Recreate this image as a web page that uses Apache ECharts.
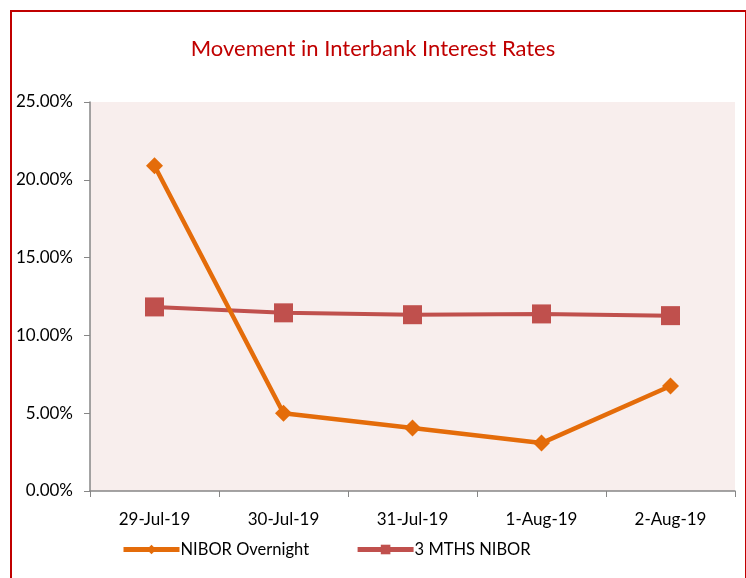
<!DOCTYPE html>
<html>
<head>
<meta charset="utf-8">
<script src="https://cdn.jsdelivr.net/npm/echarts@6/dist/echarts.min.js"></script>
<style>
  html, body { margin: 0; padding: 0; background: #fff; }
  #frame {
    position: absolute;
    left: 10px;
    top: 10px;
    width: 733px;
    height: 620px;
    border: 2px solid #C00000;
  }
  #main {
    position: absolute;
    left: 0;
    top: 0;
    width: 746px;
    height: 578px;
  }
</style>
</head>
<body>
<div id="frame"></div>
<div id="main"></div>
<script>
const dates = ["29-Jul-19", "30-Jul-19", "31-Jul-19", "1-Aug-19", "2-Aug-19"];
const niborOvernight = [20.9, 5.0, 4.05, 3.08, 6.75];
const nibor3m = [11.83, 11.45, 11.33, 11.38, 11.27];
const yTicks = [0, 5, 10, 15, 20, 25];

const font = "Lato, 'Open Sans', sans-serif";
const chart = echarts.init(document.getElementById("main"));

const option = {
  textStyle: { fontFamily: font },
  title: {
    text: "Movement in Interbank Interest Rates",
    left: "center",
    top: 33,
    textStyle: {
      color: "#C00000",
      fontSize: 22,
      fontWeight: "normal",
      fontFamily: font,
    },
  },
  legend: {
    bottom: 15,
    left: 116,
    itemWidth: 56,
    itemHeight: 12,
    itemGap: 46,
    lineStyle: { width: 5 },
    textStyle: { color: "#000", fontSize: 16.5, fontFamily: font, padding: [0, 0, 0, -4] },
    data: ["NIBOR Overnight", "3 MTHS NIBOR"],
  },
  grid: {
    left: 90,
    right: 11,
    top: 102,
    bottom: 87,
  },
  xAxis: {
    type: "category",
    data: dates,
    boundaryGap: true,
    axisLine: { lineStyle: { color: "#868686", width: 1.5 } },
    axisTick: { show: true, length: 6, lineStyle: { color: "#868686" } },
    axisLabel: { color: "#000", fontSize: 17, margin: 20, fontFamily: font },
    splitLine: { show: false },
  },
  yAxis: {
    type: "value",
    min: yTicks[0],
    max: yTicks[yTicks.length - 1],
    interval: 5,
    axisLine: { show: true, lineStyle: { color: "#868686", width: 1.5 } },
    axisTick: { show: true, length: 6, lineStyle: { color: "#868686" } },
    axisLabel: {
      color: "#000",
      fontSize: 17,
      margin: 17,
      fontFamily: font,
      formatter: (v) => v.toFixed(2) + "%",
    },
    splitLine: { show: false },
    splitArea: { show: true, areaStyle: { color: ["#F8EEED"] } },
  },
  series: [
    {
      name: "NIBOR Overnight",
      type: "line",
      data: niborOvernight,
      symbol: "diamond",
      symbolSize: 17,
      lineStyle: { color: "#E46C0A", width: 4.5 },
      itemStyle: { color: "#E46C0A" },
      z: 3,
    },
    {
      name: "3 MTHS NIBOR",
      type: "line",
      data: nibor3m,
      symbol: "rect",
      symbolSize: 19,
      lineStyle: { color: "#C0504D", width: 4 },
      itemStyle: { color: "#C0504D" },
      z: 2,
    },
  ],
};
chart.setOption(option);
</script>
</body>
</html>
